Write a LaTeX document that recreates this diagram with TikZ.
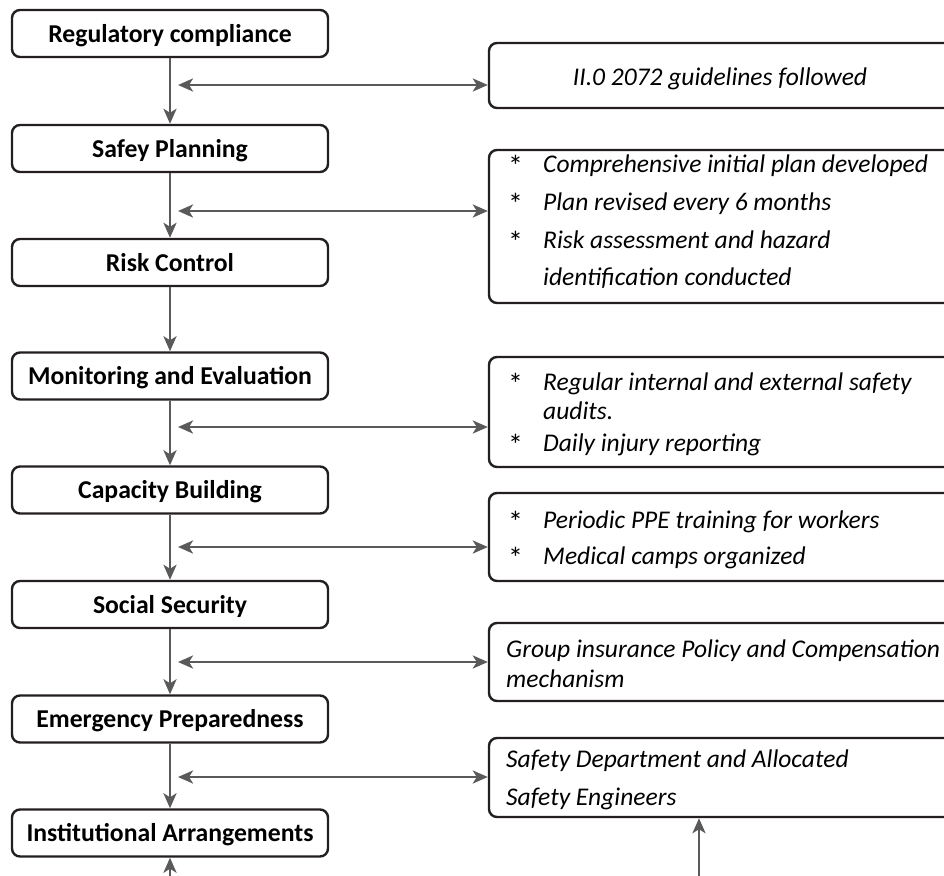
\documentclass[tikz,border=0pt]{standalone}
\usepackage{fontspec}
\setmainfont{Carlito}
\usetikzlibrary{arrows.meta}
\definecolor{conncol}{HTML}{5A5A5A}
\definecolor{boxcol}{HTML}{231F20}
\begin{document}
\begin{tikzpicture}[x=1pt,y=-1pt,
 lbox/.style={draw=boxcol,line width=2.4pt,rounded corners=8pt,minimum width=316pt,minimum height=47pt,inner sep=0pt,text height=17pt,text depth=0pt,font=\fontsize{25.7}{30}\selectfont\bfseries},
 rbox/.style={draw=boxcol,line width=2.4pt,rounded corners=8pt,minimum width=466pt,inner sep=0pt},
 tip/.tip={Stealth[length=15pt,width=13pt,inset=4pt]},
 conn/.style={draw=conncol,line width=2.8pt,-tip},
 darr/.style={draw=conncol,line width=2.8pt,tip-tip},
 rtxt/.style={anchor=base west,inner sep=0pt,font=\fontsize{25.5}{30}\selectfont\itshape},
 star/.style={anchor=base west,inner sep=0pt,font=\fontsize{30}{30}\selectfont},
 ctxt/.style={anchor=base,inner sep=0pt,font=\fontsize{25.5}{30}\selectfont\itshape},
]
\useasboundingbox (0,0) rectangle (944,875);
% left column
\node[lbox] (n1) at (170,33.5) {Regulatory compliance};
\node[lbox] (n2) at (170,148.5) {Safey Planning};
\node[lbox] (n3) at (170,262.5) {Risk Control};
\node[lbox] (n4) at (170,376) {Monitoring and Evaluation};
\node[lbox] (n5) at (170,490) {Capacity Building};
\node[lbox] (n6) at (170,604.5) {Social Security};
\node[lbox] (n7) at (170,719) {Emergency Preparedness};
\node[lbox] (n8) at (170,833) {Institutional Arrangements};
% right column boxes
\node[rbox,minimum height=65pt] (r1) at (722,75.5) {};
\node[rbox,minimum height=153pt] (r2) at (722,226.5) {};
\node[rbox,minimum height=110pt] (r3) at (722,412) {};
\node[rbox,minimum height=88pt] (r4) at (722,537) {};
\node[rbox,minimum height=78pt] (r5) at (722,662) {};
\node[rbox,minimum height=79pt] (r6) at (722,777.5) {};
% right texts
\node[ctxt] (t1) at (720,85) {II.0 2072 guidelines followed};
\node[star] (s21) at (508,176) {*};
\node[rtxt] (t21) at (543,172) {Comprehensive initial plan developed};
\node[star] (s22) at (508,214) {*};
\node[rtxt] (t22) at (543,210) {Plan revised every 6 months};
\node[star] (s23) at (508,252) {*};
\node[rtxt] (t23) at (543,248) {Risk assessment and hazard};
\node[rtxt] (t24) at (543,285) {identification conducted};
\node[star] (s31) at (508,394) {*};
\node[rtxt] (t31) at (543,390) {Regular internal and external safety};
\node[rtxt] (t32) at (543,419) {audits.};
\node[star] (s33) at (508,455) {*};
\node[rtxt] (t33) at (543,451) {Daily injury reporting};
\node[star] (s41) at (508,532) {*};
\node[rtxt] (t41) at (543,528) {Periodic PPE training for workers};
\node[star] (s42) at (508,568) {*};
\node[rtxt] (t42) at (543,564) {Medical camps organized};
\node[rtxt] (t51) at (506,657) {Group insurance Policy and Compensation};
\node[rtxt] (t52) at (506,687) {mechanism};
\node[rtxt] (t61) at (506,767) {Safety Department and Allocated};
\node[rtxt] (t62) at (506,805) {Safety Engineers};
% vertical flow
\draw[conn] (n1) -- (n2);
\draw[conn] (n2) -- (n3);
\draw[conn] (n3) -- (n4);
\draw[conn] (n4) -- (n5);
\draw[conn] (n5) -- (n6);
\draw[conn] (n6) -- (n7);
\draw[conn] (n7) -- (n8);
% side links
\coordinate (d1) at (178,85);
\coordinate (d2) at (178,211);
\coordinate (d4) at (178,427);
\coordinate (d5) at (178,547);
\coordinate (d6) at (178,662);
\coordinate (d7) at (178,777);
\draw[darr] (d1) -- (d1 -| r1.west);
\draw[darr] (d2) -- (d2 -| r2.west);
\draw[darr] (d4) -- (d4 -| r3.west);
\draw[darr] (d5) -- (d5 -| r4.west);
\draw[darr] (d6) -- (d6 -| r5.west);
\draw[darr] (d7) -- (d7 -| r6.west);
% bottom arrows
\coordinate (b1) at (170,880);
\coordinate (b2) at (699,880);
\draw[conn] (b1) -- (n8.south);
\draw[conn] (b2) -- (b2 |- r6.south);
\end{tikzpicture}
\end{document}
